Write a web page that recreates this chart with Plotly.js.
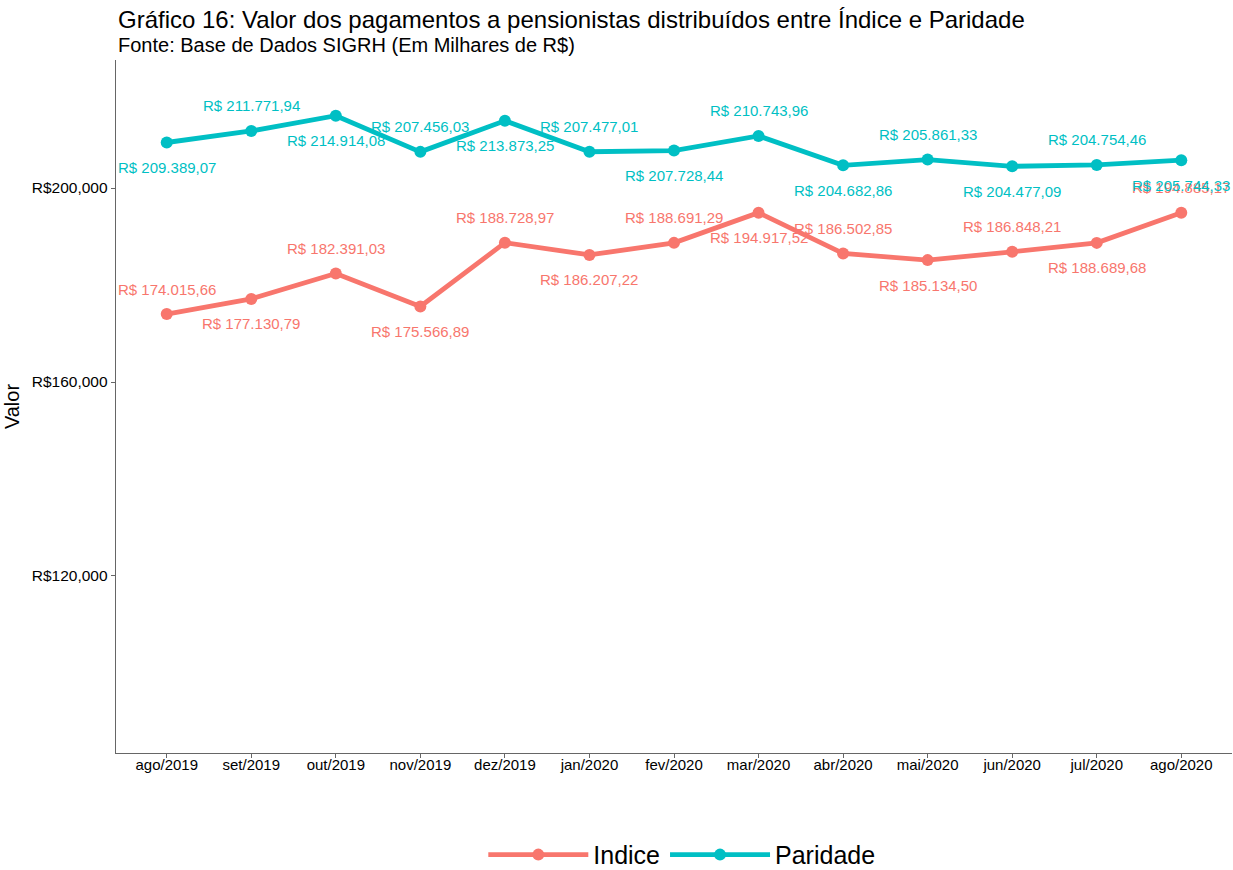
<!DOCTYPE html>
<html>
<head>
<meta charset="utf-8">
<script src="https://cdn.plot.ly/plotly-3.0.1.min.js"></script>
<style>html,body{margin:0;padding:0;background:#fff;}#chart{width:1233px;height:870px;}</style>
</head>
<body>
<div id="chart"></div>
<script>
const months = ["ago/2019","set/2019","out/2019","nov/2019","dez/2019","jan/2020","fev/2020","mar/2020","abr/2020","mai/2020","jun/2020","jul/2020","ago/2020"];
const indice = [174015.66,177130.79,182391.03,175566.89,188728.97,186207.22,188691.29,194917.52,186502.85,185134.50,186848.21,188689.68,194885.17];
const paridade = [209389.07,211771.94,214914.08,207456.03,213873.25,207477.01,207728.44,210743.96,204682.86,205861.33,204477.09,204754.46,205744.33];
const yTickVals = [120000,160000,200000];
const yTickText = ["R$120,000","R$160,000","R$200,000"];
const colIndice = "#F8766D", colParidade = "#00BFC4";

function fmtBR(v){
  const parts = v.toFixed(2).split(".");
  const intPart = parts[0].replace(/\B(?=(\d{3})+(?!\d))/g, ".");
  return "R$ " + intPart + "," + parts[1];
}

const traces = [
  {x: months, y: indice, name: "Indice", type: "scatter", mode: "lines+markers",
   line: {color: colIndice, width: 4.8}, marker: {color: colIndice, size: 12}},
  {x: months, y: paridade, name: "Paridade", type: "scatter", mode: "lines+markers",
   line: {color: colParidade, width: 4.8}, marker: {color: colParidade, size: 12}}
];

const annotations = [];
months.forEach((m, i) => {
  annotations.push({x: m, y: indice[i], xref: "x", yref: "y", text: fmtBR(indice[i]),
    showarrow: false, yshift: (i % 2 === 0) ? 25 : -25,
    font: {family: "Liberation Sans, Arial, sans-serif", size: 15, color: colIndice}});
  annotations.push({x: m, y: paridade[i], xref: "x", yref: "y", text: fmtBR(paridade[i]),
    showarrow: false, yshift: (i % 2 === 0) ? -25 : 25,
    font: {family: "Liberation Sans, Arial, sans-serif", size: 15, color: colParidade}});
});
annotations.push({xref: "paper", yref: "paper", x: 0, y: 1, xanchor: "left", yanchor: "bottom",
  yshift: 25, showarrow: false, align: "left",
  text: "Gráfico 16: Valor dos pagamentos a pensionistas distribuídos entre Índice e Paridade",
  font: {family: "Liberation Sans, Arial, sans-serif", size: 24, color: "#000"}});
annotations.push({xref: "paper", yref: "paper", x: 0, y: 1, xanchor: "left", yanchor: "bottom",
  yshift: 2, showarrow: false, align: "left",
  text: "Fonte: Base de Dados SIGRH (Em Milhares de R$)",
  font: {family: "Liberation Sans, Arial, sans-serif", size: 20, color: "#000"}});

const layout = {
  width: 1233, height: 870,
  margin: {l: 116, r: 1, t: 60, b: 117, autoexpand: false},
  paper_bgcolor: "#fff", plot_bgcolor: "#fff",
  font: {family: "Liberation Sans, Arial, sans-serif", color: "#000"},
  showlegend: true,
  legend: {orientation: "h", x: 0.507, xanchor: "center", y: -0.147, yanchor: "middle",
    font: {size: 25, color: "#000"}, itemwidth: 100, tracegroupgap: 0},
  xaxis: {type: "category", range: [-0.6, 12.6], showgrid: false, zeroline: false,
    showline: true, linecolor: "#666", linewidth: 1.3, ticks: "outside", ticklen: 4,
    tickcolor: "#666", tickfont: {size: 15, color: "#000"}, ticklabelstandoff: -6},
  yaxis: {range: [83500, 226400], showgrid: false, zeroline: false,
    showline: true, linecolor: "#666", linewidth: 1.3, ticks: "outside", ticklen: 4,
    tickcolor: "#666", tickvals: yTickVals, ticktext: yTickText,
    tickfont: {size: 15.5, color: "#000"},
    title: {text: "Valor", font: {size: 20, color: "#000"}, standoff: 6}},
  annotations: annotations
};

Plotly.newPlot("chart", traces, layout, {displayModeBar: false, staticPlot: true});
</script>
</body>
</html>
